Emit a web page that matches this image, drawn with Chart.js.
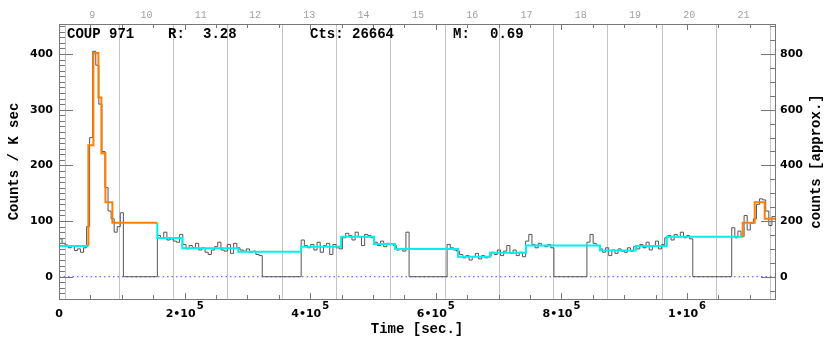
<!DOCTYPE html>
<html lang="en">
<head>
<meta charset="UTF-8" />
<title>COUP 971 light curve</title>
<script src="https://cdn.jsdelivr.net/npm/chart.js"></script>
<style>
  html, body { margin: 0; padding: 0; background: #fff; }
</style>
</head>
<body>
<canvas id="lcChart" width="830" height="339"></canvas>
<script>
// time axis [sec.]
const tMax = 1140000;

// observation segments: start / end [sec.] and binned rate [counts / ksec]
const segStarts = [0, 156600, 385600, 617900, 840500, 1071100];
const segEnds = [102500, 323600, 557400, 788000, 1009100, 1140000];
const segA = [68, 60, 57, 52, 55, 47, 50, 44, 52, 90, 250, 405, 380, 310, 225, 160, 118, 104, 80, 90, 115];
const segB = [74, 70, 80, 66, 68, 64, 62, 76, 58, 50, 56, 52, 60, 48, 52, 44, 40, 48, 54, 62, 48, 46, 58, 42, 60, 52, 48, 46, 50, 44, 46, 40, 38];
const segC = [66, 56, 52, 58, 48, 62, 44, 56, 60, 40, 58, 52, 50, 70, 78, 74, 66, 80, 72, 56, 76, 74, 70, 62, 56, 64, 54, 60, 58, 56, 48, 50, 46, 80];
const segD = [58, 52, 48, 46, 40, 34, 38, 30, 36, 42, 32, 38, 34, 36, 44, 40, 48, 38, 46, 56, 42, 48, 38, 44, 36, 64, 76, 58, 52, 60, 56, 54, 58, 52];
const segE = [62, 76, 60, 56, 50, 44, 52, 38, 48, 42, 50, 46, 44, 52, 46, 54, 50, 58, 52, 62, 48, 56, 64, 50, 58, 70, 74, 66, 76, 72, 80, 70, 74, 68];
const segF = [88, 70, 82, 72, 110, 84, 96, 104, 130, 140, 138, 118, 92, 108];
const segRates = [segA, segB, segC, segD, segE, segF];

// Bayesian blocks: start [sec.], level [counts / ksec], 1 = flare block
const blockStarts = [0, 46800, 54800, 62750, 67500, 73900, 85000, 156600, 196300, 285400, 385600, 449200, 501700, 535100, 635300, 686200, 743400, 861200, 918400, 967700, 1088600, 1107700, 1123600];
const blockLevels = [55, 236, 402, 322, 222, 134, 97, 69.6, 51, 45, 54, 72, 59, 50, 36, 43, 56, 47, 55, 72, 97, 134, 104];
const blockFlare = [0, 1, 1, 1, 1, 1, 1, 0, 0, 0, 0, 0, 0, 0, 0, 0, 0, 0, 0, 0, 1, 1, 1];

// day numbers on the top axis
const dayLabels = [9, 10, 11, 12, 13, 14, 15, 16, 17, 18, 19, 20, 21];
const dayStart = 9800;
const dayLength = 86400;

// header
const headerTexts = ["COUP 971", "R:", "3.28", "Cts: 26664", "M:", "0.69"];

// ---- build series ----
const rateCurve = [];
segRates.forEach((vals, s) => {
  const bw = (segEnds[s] - segStarts[s]) / vals.length;
  vals.forEach((v, i) => rateCurve.push({ x: segStarts[s] + i * bw, y: v }));
  const last = vals[vals.length - 1];
  if (s < segRates.length - 1) rateCurve.push({ x: segEnds[s], y: 0 });
  else rateCurve.push({ x: segEnds[s], y: last });
});

function blockSeries(flag) {
  const pts = [];
  const n = blockStarts.length;
  for (let i = 0; i < n; i++) {
    if (blockFlare[i] !== flag) continue;
    const end = i + 1 < n ? blockStarts[i + 1] : tMax;
    if (i > 0 && blockFlare[i - 1] !== flag) pts.push({ x: blockStarts[i], y: blockLevels[i - 1] });
    pts.push({ x: blockStarts[i], y: blockLevels[i] });
    if (i + 1 === n || blockFlare[i + 1] !== flag) {
      pts.push({ x: end, y: blockLevels[i] });
      pts.push({ x: end, y: null });
    }
  }
  return pts;
}

// true when v is (close to) a multiple of step
const isMult = (v, step) => Math.abs(v / step - Math.round(v / step)) < 1e-6;

// ticks at every multiple of step inside [min, max]
const stepTicks = (step) => (s) => {
  const ticks = [];
  for (let k = Math.ceil(s.min / step); k * step <= s.max; k++) ticks.push({ value: k * step });
  s.ticks = ticks;
};

// split a time tick into mantissa text and exponent text (2e5 -> "2•10", "5")
function sciParts(v) {
  if (Math.abs(v) < 1) return ["0", ""];
  const e = Math.floor(Math.log10(v) + 1e-9);
  const m = Math.round(v / Math.pow(10, e));
  return [m + "•10", String(e)];
}

const tickFont = { family: "DejaVu Sans", size: 11, weight: "bold" };
const titleFont = { family: "Liberation Mono", size: 14, weight: "bold" };
const boxColor = "#777";

// box, inward ticks, time labels with raised exponent, header and right title
const idlFrame = {
  id: "idlFrame",
  afterDraw(chart) {
    const { ctx, chartArea: a, scales } = chart;
    ctx.save();
    ctx.strokeStyle = boxColor;
    ctx.lineWidth = 1;
    ctx.beginPath();
    scales.x.ticks.forEach((t) => {
      const px = Math.round(scales.x.getPixelForValue(t.value)) + 0.5;
      const len = isMult(t.value, 200000) ? 6 : 4;
      ctx.moveTo(px, a.bottom); ctx.lineTo(px, a.bottom - len);
      ctx.moveTo(px, a.top); ctx.lineTo(px, a.top + len);
    });
    scales.y.ticks.forEach((t) => {
      const py = Math.round(scales.y.getPixelForValue(t.value)) + 0.5;
      const len = isMult(t.value, 100) ? 14 : 6;
      ctx.moveTo(a.left, py); ctx.lineTo(a.left + len, py);
    });
    scales.y2.ticks.forEach((t) => {
      const py = Math.round(scales.y2.getPixelForValue(t.value)) + 0.5;
      const len = isMult(t.value, 200) ? 14 : 5;
      ctx.moveTo(a.right, py); ctx.lineTo(a.right - len, py);
    });
    ctx.stroke();
    ctx.strokeRect(a.left + 0.5, a.top + 0.5, a.right - a.left, a.bottom - a.top);

    // time tick labels
    ctx.fillStyle = "#000";
    ctx.textBaseline = "alphabetic";
    ctx.textAlign = "left";
    scales.x.ticks.forEach((t) => {
      if (!isMult(t.value, 200000)) return;
      const [mant, expo] = sciParts(t.value);
      const px = scales.x.getPixelForValue(t.value);
      ctx.font = "bold 11px 'DejaVu Sans'";
      const wm = ctx.measureText(mant).width;
      ctx.font = "bold 10px 'DejaVu Sans'";
      const we = expo ? ctx.measureText(expo).width + 1 : 0;
      const x0 = px - (wm + we) / 2;
      ctx.font = "bold 11px 'DejaVu Sans'";
      ctx.fillText(mant, x0, a.bottom + 18);
      if (expo) {
        ctx.font = "bold 10px 'DejaVu Sans'";
        ctx.fillText(expo, x0 + wm + 1, a.bottom + 10);
      }
    });

    // header line
    ctx.font = "bold 14px 'Liberation Mono'";
    const hx = [67, 168, 203, 310, 453, 490];
    headerTexts.forEach((t, i) => ctx.fillText(t, hx[i], 38));

    // right axis title, reading upwards
    ctx.translate(816, (a.top + a.bottom) / 2);
    ctx.rotate(-Math.PI / 2);
    ctx.textAlign = "center";
    ctx.textBaseline = "middle";
    ctx.fillText("counts [approx.]", 0, 0);
    ctx.restore();
  },
};

new Chart(document.getElementById("lcChart"), {
  type: "line",
  data: {
    datasets: [
      {
        label: "flare blocks",
        data: blockSeries(1),
        borderColor: "#ff8000",
        borderWidth: 2,
        stepped: true,
        spanGaps: false,
      },
      {
        label: "blocks",
        data: blockSeries(0),
        borderColor: "rgb(0,240,240)",
        borderWidth: 2,
        stepped: true,
        spanGaps: false,
      },
      {
        label: "rate",
        data: rateCurve,
        borderColor: "#555",
        borderWidth: 1,
        stepped: true,
      },
      {
        label: "zero",
        data: [{ x: 0, y: 0 }, { x: tMax, y: 0 }],
        borderColor: "#4b4bff",
        borderWidth: 1,
        borderDash: [1.5, 3],
      },
    ],
  },
  options: {
    responsive: false,
    animation: false,
    layout: { padding: 0 },
    elements: { point: { radius: 0 }, line: { tension: 0 } },
    plugins: { legend: { display: false }, tooltip: { enabled: false } },
    scales: {
      x: {
        type: "linear",
        position: "bottom",
        min: 0,
        max: tMax,
        afterFit: (s) => { s.height = 40; },
        afterBuildTicks: stepTicks(50000),
        grid: { display: false, drawTicks: false },
        border: { display: false },
        ticks: {
          autoSkip: false,
          maxRotation: 0,
          callback: () => "",
        },
        title: {
          display: true,
          text: "Time [sec.]",
          color: "#000",
          font: titleFont,
          padding: { top: 0, bottom: 1 },
        },
      },
      xTop: {
        type: "linear",
        position: "top",
        min: 0,
        max: tMax,
        afterFit: (s) => { s.height = 24; },
        afterBuildTicks: (s) => {
          const ticks = [];
          for (let k = 0; dayStart + k * dayLength <= tMax; k++) ticks.push({ value: dayStart + k * dayLength });
          dayLabels.forEach((d, i) => ticks.push({ value: dayStart + (i + 0.5) * dayLength, day: d }));
          ticks.sort((p, q) => p.value - q.value);
          s.ticks = ticks;
        },
        grid: {
          drawTicks: false,
          color: (c) => (c.tick && c.tick.day !== undefined ? "rgba(0,0,0,0)" : "#c4c4c4"),
        },
        border: { display: false },
        ticks: {
          autoSkip: false,
          maxRotation: 0,
          padding: 3,
          color: "#a0a0a0",
          font: { family: "Liberation Mono", size: 10 },
          callback: (v, i, ticks) => (ticks[i].day !== undefined ? String(ticks[i].day) : ""),
        },
      },
      y: {
        type: "linear",
        position: "left",
        min: -40,
        max: 454,
        afterFit: (s) => { s.width = 59; },
        afterBuildTicks: stepTicks(10),
        grid: { display: false, drawTicks: false },
        border: { display: false },
        ticks: {
          autoSkip: false,
          padding: 6,
          color: "#000",
          font: tickFont,
          callback: (v) => (isMult(v, 100) ? String(Math.round(v)) : ""),
        },
        title: {
          display: true,
          text: "Counts / K sec",
          color: "#000",
          font: titleFont,
          padding: { top: 6, bottom: 0 },
        },
      },
      y2: {
        type: "linear",
        position: "right",
        min: -80,
        max: 908,
        afterFit: (s) => { s.width = 55; },
        afterBuildTicks: stepTicks(50),
        grid: { display: false, drawTicks: false },
        border: { display: false },
        ticks: {
          autoSkip: false,
          padding: 5,
          color: "#000",
          font: tickFont,
          callback: (v) => (isMult(v, 200) ? String(Math.round(v)) : ""),
        },
      },
    },
  },
  plugins: [idlFrame],
});
</script>
</body>
</html>
